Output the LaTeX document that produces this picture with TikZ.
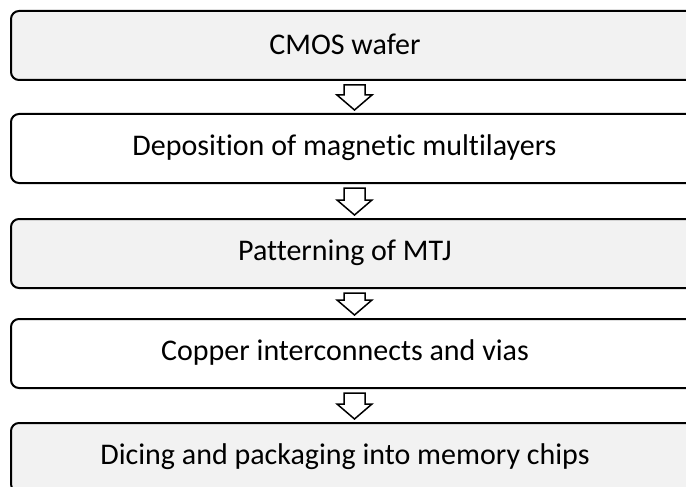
\documentclass[tikz,border=0pt]{standalone}
\usepackage{fontspec}
\setmainfont{Carlito}[Ligatures=NoCommon]
\usetikzlibrary{calc}
\definecolor{boxgray}{HTML}{F2F2F2}
\tikzset{
  stagebox/.style={draw=black, line width=2pt, rounded corners=8pt,
    minimum width=688pt, minimum height=69pt, inner sep=0pt, anchor=north},
  graybox/.style={stagebox, fill=boxgray},
  whitebox/.style={stagebox, fill=white},
  label/.style={font=\fontsize{30pt}{34pt}\selectfont, inner sep=0pt, text=black},
  flowarrow/.style={draw=black, fill=white, line width=1.5pt, line join=miter}
}
% hollow block arrow between two stacked boxes
\newcommand{\stagearrow}[2]{%
  \path[flowarrow] let \p1=(#1.south), \p2=(#2.north) in
    (354.5pt-10.5pt, \y1-4pt) -- (354.5pt+10.5pt, \y1-4pt)
    -- (354.5pt+10.5pt, \y2+18pt) -- (354.5pt+17.5pt, \y2+18pt)
    -- (354.5pt, \y2+3pt) -- (354.5pt-17.5pt, \y2+18pt)
    -- (354.5pt-10.5pt, \y2+18pt) -- cycle;}
\begin{document}
\begin{tikzpicture}[x=1pt, y=-1pt]
  \useasboundingbox (0,0) rectangle (686,487);
  \node[graybox]  (b1) at (355,10)  {};
  \node[whitebox] (b2) at (355,113) {};
  \node[graybox]  (b3) at (355,218) {};
  \node[whitebox] (b4) at (355,318) {};
  \node[graybox]  (b5) at (355,422) {};
  \node[label] (t1) at (345,44.5)  {CMOS wafer};
  \node[label] (t2) at (344.5,147.5) {Deposition of magnetic multilayers};
  \node[label] (t3) at (345,252.5) {Patterning of MTJ};
  \node[label] (t4) at (345,352.5) {Copper interconnects and vias};
  \node[label] (t5) at (345,456.5) {Dicing and packaging into memory chips};
  \stagearrow{b1}{b2}
  \stagearrow{b2}{b3}
  \stagearrow{b3}{b4}
  \stagearrow{b4}{b5}
\end{tikzpicture}
\end{document}
